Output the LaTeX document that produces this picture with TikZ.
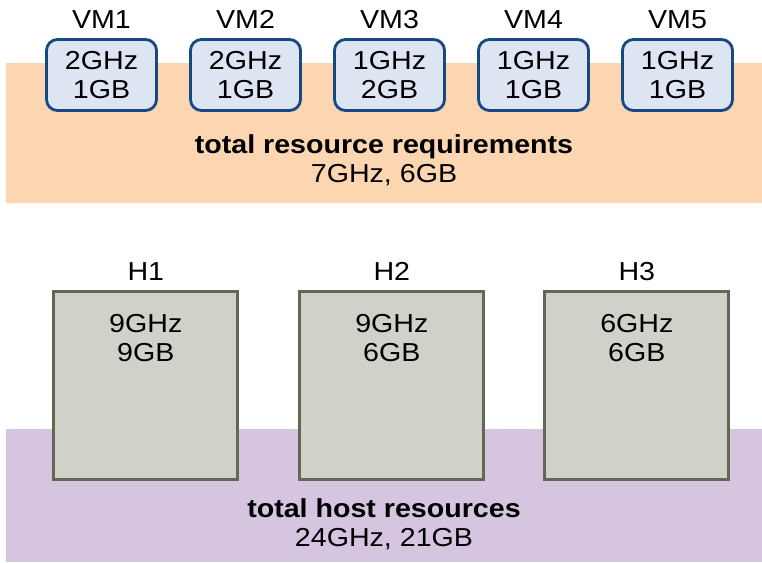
\documentclass[tikz,border=0pt]{standalone}
\usepackage{fontspec}
\setmainfont{Liberation Sans}[FakeStretch=1.1]
\definecolor{bandorange}{RGB}{252,213,177}
\definecolor{bandpurple}{RGB}{213,197,225}
\definecolor{vmfill}{RGB}{221,228,242}
\definecolor{vmdraw}{RGB}{24,72,132}
\definecolor{hostfill}{RGB}{208,209,200}
\definecolor{hostdraw}{RGB}{100,103,84}
\tikzset{
  band/.style={rectangle, draw=none, inner sep=0, anchor=north west},
  vmbox/.style={rectangle, rounded corners=11pt, draw=vmdraw, fill=vmfill, line width=2.8pt,
    minimum width=110pt, minimum height=71pt, inner sep=0, align=center},
  hostbox/.style={rectangle, draw=hostdraw, fill=hostfill, line width=2.8pt,
    minimum width=184pt, minimum height=187.5pt, inner sep=0, anchor=north west},
  lbl/.style={inner sep=0, anchor=base},
  txt/.style={inner sep=0, anchor=north, align=center},
}
\begin{document}
\begin{tikzpicture}[x=1pt,y=-1pt,font=\fontsize{26}{29}\selectfont]
\useasboundingbox[fill=white] (0,0) rectangle (762,562);
% bands
\node[band, fill=bandorange, minimum width=756pt, minimum height=140pt] (req) at (6,63) {};
\node[band, fill=bandpurple, minimum width=756pt, minimum height=133pt] (res) at (6,429) {};
% VMs
\foreach \i/\x/\c/\m in {1/101.5/2/1, 2/245.5/2/1, 3/389.5/1/2, 4/533.5/1/1, 5/677.5/1/1}{
  \node[vmbox] (vm\i) at (\x,75) {\c GHz\\\m GB};
  \node[lbl] (vm\i l) at (\x,28) {VM\i};
}
\node[txt] (reqt) at (384,134.5) {\textbf{total resource requirements}\\7GHz, 6GB};
% Hosts
\node[hostbox] (h1) at (52.4,290.4) {};
\node[hostbox] (h2) at (298.4,290.4) {};
\node[hostbox] (h3) at (543.4,290.4) {};
\node[lbl] (h1l) at (h1.north |- 0,280) {H1};
\node[lbl] (h2l) at (h2.north |- 0,280) {H2};
\node[lbl] (h3l) at (h3.north |- 0,280) {H3};
\node[txt] (h1t) at (h1.north |- 0,314.5) {9GHz\\9GB};
\node[txt] (h2t) at (h2.north |- 0,314.5) {9GHz\\6GB};
\node[txt] (h3t) at (h3.north |- 0,314.5) {6GHz\\6GB};
\node[txt] (rest) at (384,498.5) {\textbf{total host resources}\\24GHz, 21GB};
\end{tikzpicture}
\end{document}
